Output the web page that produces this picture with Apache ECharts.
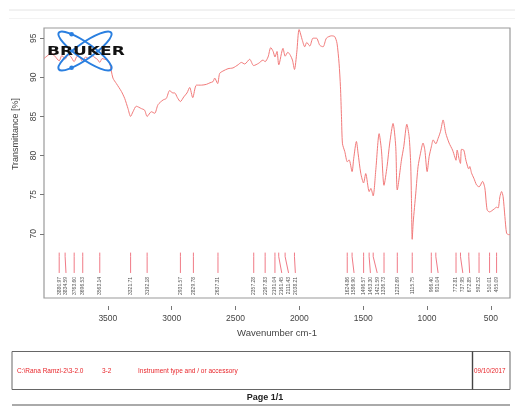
<!DOCTYPE html>
<html>
<head>
<meta charset="utf-8">
<title>IR spectrum 3-2</title>
<script src="https://cdn.jsdelivr.net/npm/echarts@6/dist/echarts.min.js"></script>
<style>
  html, body { margin: 0; padding: 0; background: #fff; }
  #chart { width: 515px; height: 409px; }
</style>
</head>
<body>
<div id="chart"></div>
<script>
// Wavenumber (cm-1) and transmittance (%) of the recorded spectrum
const wavenumber = [
  4000, 3970, 3945, 3915, 3881, 3860, 3835, 3812, 3788, 3764, 3740, 3718, 3697, 3675,
  3650, 3625, 3600, 3582, 3563, 3545, 3525, 3505, 3486, 3460, 3433, 3394, 3368, 3342,
  3322, 3303, 3277, 3237, 3212, 3192, 3159, 3133, 3107, 3068, 3042, 3016, 2990, 2976,
  2955, 2932, 2905, 2880, 2859, 2835, 2806, 2767, 2728, 2700, 2676, 2663, 2640, 2624,
  2598, 2559, 2520, 2480, 2454, 2428, 2389, 2358, 2318, 2285, 2268, 2245, 2224, 2205,
  2191, 2175, 2161, 2128, 2111, 2090, 2070, 2054, 2038, 2020, 2002, 1976, 1958, 1942,
  1918, 1893, 1866, 1840, 1814, 1788, 1748, 1723, 1705, 1689, 1678, 1670, 1662, 1644,
  1624, 1610, 1587, 1574, 1553, 1540, 1519, 1497, 1480, 1453, 1440, 1422, 1401, 1375,
  1357, 1337, 1313, 1292, 1266, 1245, 1233, 1200, 1182, 1158, 1140, 1128, 1122, 1116,
  1108, 1088, 1070, 1051, 1031, 1017, 999, 983, 965, 952, 931, 913, 894, 874,
  853, 827, 800, 782, 773, 764, 748, 738, 730, 712, 696, 678, 673, 665,
  651, 633, 612, 592, 565, 547, 529, 510, 476, 455, 443, 429, 416, 404,
  390, 377, 364, 350
];
const transmittance = [
  92.4, 92.8, 93.1, 92.7, 92.1, 92.8, 92.3, 92.9, 92.6, 92.0, 92.7, 92.5, 92.0, 92.6,
  92.4, 92.8, 92.5, 92.3, 91.9, 92.4, 92.3, 92.2, 91.8, 89.9, 89.2, 88.2, 87.3, 86.0,
  85.0, 85.6, 86.3, 86.0, 85.8, 85.0, 85.6, 85.4, 86.5, 87.1, 87.3, 88.3, 88.0, 88.0,
  87.4, 86.9, 87.5, 88.0, 88.7, 87.4, 89.0, 89.0, 89.1, 89.3, 89.45, 89.9, 89.2, 90.5,
  90.8, 91.1, 91.2, 91.6, 91.9, 91.7, 92.3, 91.5, 91.8, 92.2, 92.0, 92.6, 93.8, 93.3,
  92.6, 93.3, 91.6, 93.7, 92.7, 93.2, 92.8, 92.2, 91.0, 93.2, 96.1, 94.7, 93.9, 94.45,
  94.0, 95.0, 95.0, 94.1, 93.9, 95.0, 95.3, 95.2, 94.35, 91.8, 88.8, 85.0, 81.5, 80.5,
  79.2, 79.45, 77.95, 79.65, 81.8, 80.3, 77.75, 76.5, 77.7, 75.4, 75.8, 74.85, 78.2, 82.8,
  80.7, 76.2, 78.6, 81.6, 84.1, 81.15, 75.6, 79.45, 81.15, 84.0, 82.4, 79.0, 74.5, 69.3,
  71.5, 75.2, 78.6, 80.3, 81.6, 80.7, 77.95, 79.9, 81.2, 82.0, 81.5, 82.2, 83.1, 84.55,
  82.85, 81.6, 80.7, 79.8, 79.4, 80.7, 79.5, 79.0, 80.8, 80.7, 79.45, 78.4, 78.3, 78.6,
  77.75, 77.1, 76.25, 76.0, 76.7, 75.85, 73.05, 72.8, 73.15, 73.4, 73.3, 74.75, 75.4, 74.75,
  72.2, 70.1, 69.9, 69.9
];

// Picked peak positions (cm-1)
const peakPositions = [
  3880.97, 3834.59, 3763.60, 3696.53, 3563.14, 3321.71, 3192.18, 2931.57, 2829.78, 2637.31,
  2357.28, 2267.83, 2191.04, 2161.45, 2111.43, 2038.21, 1624.86, 1586.90, 1496.57, 1453.30,
  1421.59, 1336.73, 1232.69, 1115.75, 966.40, 931.04, 772.81, 737.95, 672.85, 592.52,
  510.01, 455.09
];
const peakLabels = peakPositions.map(p => p.toFixed(2));

const xTickValues = [500, 1000, 1500, 2000, 2500, 3000, 3500];
const yTickValues = [70, 75, 80, 85, 90, 95];

// Vertical band (in % units) where the peak marks and their labels sit
const markTop = 67.6, markBottom = 65.0, markLabel = 64.5;
const labelGap = 6.8;

const spectrumColor = '#f27a7a';
const chart = echarts.init(document.getElementById('chart'), null, { renderer: 'canvas' });

const option = {
  animation: false,
  backgroundColor: '#ffffff',
  grid: {
    left: 44, top: 28, width: 466, height: 270,
    show: true, borderColor: '#9a9a9a', borderWidth: 1.2, backgroundColor: 'transparent'
  },
  xAxis: {
    type: 'value', inverse: true, min: 350, max: 4000,
    offset: 8,
    axisLine: { show: false },
    splitLine: { show: false },
    axisTick: { show: true, length: 4, customValues: xTickValues, lineStyle: { color: '#777' } },
    axisLabel: { customValues: xTickValues, color: '#444', fontSize: 8.5,
                 fontFamily: 'Liberation Sans', margin: 8,
                 formatter: v => String(v) }
  },
  yAxis: {
    type: 'value', min: 61.8, max: 96.3,
    axisLine: { show: false },
    splitLine: { show: false },
    axisTick: { show: true, length: 4, customValues: yTickValues, lineStyle: { color: '#777' } },
    axisLabel: { customValues: yTickValues, color: '#444', fontSize: 8.5,
                 fontFamily: 'Liberation Sans', rotate: 90, margin: 6,
                 formatter: v => String(v) }
  },
  series: [
    {
      type: 'line',
      data: wavenumber.map((w, i) => [w, transmittance[i]]),
      showSymbol: false,
      smooth: 0.25,
      lineStyle: { color: spectrumColor, width: 1 },
      z: 3
    },
    {
      type: 'custom',
      data: peakPositions.map(p => [p, markTop]),
      renderItem: function (params, api) {
        const i = params.dataIndex;
        const xs = peakPositions.map(p => api.coord([p, markTop])[0]);
        const lx = [];
        for (let k = 0; k < xs.length; k++) {
          lx[k] = k === 0 ? xs[k] : Math.max(xs[k], lx[k - 1] + labelGap);
        }
        const top = api.coord([peakPositions[i], markTop])[1];
        const bot = api.coord([peakPositions[i], markBottom])[1];
        const lab = api.coord([peakPositions[i], markLabel])[1];
        return {
          type: 'group',
          children: [
            {
              type: 'polyline',
              shape: { points: [[xs[i], top], [xs[i], top + 4], [lx[i], bot]] },
              style: { stroke: '#f07a86', lineWidth: 1, fill: null }
            },
            {
              type: 'text',
              x: lx[i], y: lab, rotation: Math.PI / 2,
              style: { text: peakLabels[i], font: '5px "Liberation Sans"', fill: '#555',
                       align: 'right', verticalAlign: 'middle' }
            }
          ]
        };
      },
      z: 2
    }
  ],
  graphic: [
    // page header rules
    { type: 'line', shape: { x1: 9, y1: 10, x2: 515, y2: 10 }, style: { stroke: '#e4e4e4', lineWidth: 1 } },
    { type: 'line', shape: { x1: 9, y1: 18.5, x2: 515, y2: 18.5 }, style: { stroke: '#f3f3f3', lineWidth: 1 } },
    // axis titles
    { type: 'text', x: 16, y: 134, rotation: Math.PI / 2,
      style: { text: 'Transmittance [%]', font: '9px "Liberation Sans"', fill: '#444',
               align: 'center', verticalAlign: 'middle' } },
    { type: 'text', x: 277, y: 333,
      style: { text: 'Wavenumber cm-1', font: '9.5px "Liberation Sans"', fill: '#444',
               align: 'center', verticalAlign: 'middle' } },
    // Bruker logo
    { type: 'ellipse', x: 85, y: 51, rotation: 35 * Math.PI / 180,
      shape: { cx: 0, cy: 0, rx: 32, ry: 8 }, style: { stroke: '#2a7fe0', lineWidth: 2, fill: null }, z: 10 },
    { type: 'ellipse', x: 85, y: 51, rotation: -35 * Math.PI / 180,
      shape: { cx: 0, cy: 0, rx: 32, ry: 8 }, style: { stroke: '#2a7fe0', lineWidth: 2, fill: null }, z: 10 },
    { type: 'circle', shape: { cx: 71.6, cy: 34.2, r: 2.3 }, style: { fill: '#2a7fe0' }, z: 10 },
    { type: 'circle', shape: { cx: 71.6, cy: 67.8, r: 2.3 }, style: { fill: '#2a7fe0' }, z: 10 },
    { type: 'text', x: 47, y: 52, scaleX: 1.36,
      style: { text: 'BRUKER', font: 'bold 12.5px "DejaVu Sans"', fill: '#111',
               align: 'left', verticalAlign: 'middle' }, z: 11 },
    // footer box
    { type: 'rect', shape: { x: 12, y: 351.5, width: 498, height: 38 },
      style: { stroke: '#666', lineWidth: 1, fill: null } },
    { type: 'line', shape: { x1: 472.5, y1: 351.5, x2: 472.5, y2: 389.5 },
      style: { stroke: '#444', lineWidth: 1.4 } },
    { type: 'text', x: 17, y: 371,
      style: { text: 'C:\\Rana Ramzi-2\\3-2.0', font: '6.5px "Liberation Sans"', fill: '#e8262b', verticalAlign: 'middle' } },
    { type: 'text', x: 102, y: 371,
      style: { text: '3-2', font: '6.5px "Liberation Sans"', fill: '#e8262b', verticalAlign: 'middle' } },
    { type: 'text', x: 138, y: 371,
      style: { text: 'Instrument type and / or accessory', font: '6.5px "Liberation Sans"', fill: '#e8262b', verticalAlign: 'middle' } },
    { type: 'text', x: 474, y: 371,
      style: { text: '09/10/2017', font: '6.3px "Liberation Sans"', fill: '#e8262b', verticalAlign: 'middle' } },
    { type: 'text', x: 265, y: 398,
      style: { text: 'Page 1/1', font: 'bold 9px "Liberation Sans"', fill: '#222',
               align: 'center', verticalAlign: 'middle' } },
    { type: 'line', shape: { x1: 12, y1: 405, x2: 510, y2: 405 }, style: { stroke: '#aaa', lineWidth: 2 } }
  ]
};

chart.setOption(option);
</script>
</body>
</html>
